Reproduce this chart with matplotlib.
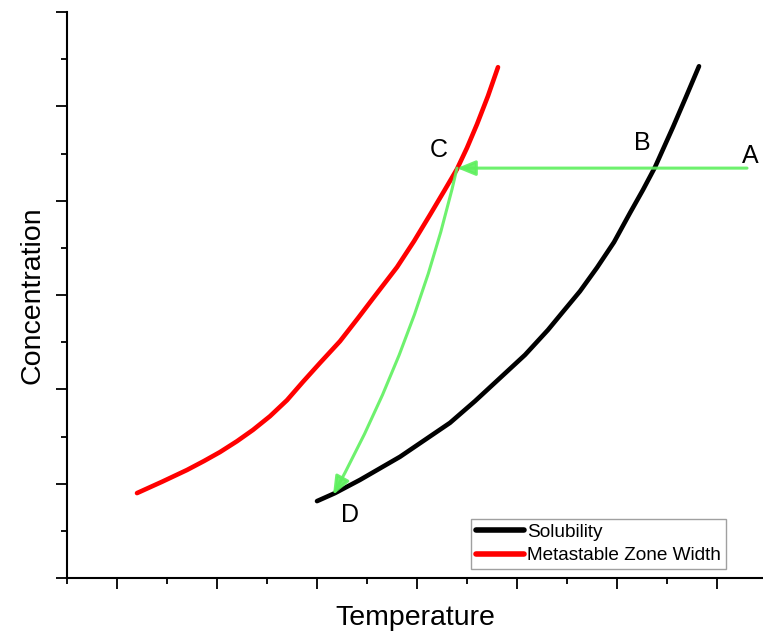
import matplotlib
matplotlib.use("Agg")
import matplotlib.pyplot as plt
from matplotlib.ticker import MultipleLocator, NullFormatter

plt.rcParams['font.family'] = ['Liberation Sans', 'DejaVu Sans']

# Data (arbitrary units)
sol_x = [4.0, 4.36, 4.86, 5.66, 6.16, 6.66, 7.16, 7.66, 8.16, 8.62, 8.90, 9.26,
         9.60, 9.94, 10.26, 10.52, 10.76, 11.12, 11.38, 11.64]
sol_y = [1.63, 1.80, 2.08, 2.57, 2.93, 3.29, 3.75, 4.24, 4.73, 5.26, 5.62, 6.08,
         6.58, 7.12, 7.74, 8.23, 8.71, 9.56, 10.20, 10.85]

msz_x = [0.40, 0.90, 1.40, 1.74, 2.06, 2.40, 2.72, 3.06, 3.40, 3.72, 4.06, 4.46,
         4.82, 5.10, 5.60, 5.94, 6.26, 6.54, 6.80, 7.00, 7.20, 7.42, 7.62]
msz_y = [1.80, 2.04, 2.29, 2.48, 2.67, 2.90, 3.14, 3.43, 3.77, 4.16, 4.56, 5.02,
         5.51, 5.90, 6.59, 7.14, 7.70, 8.20, 8.67, 9.12, 9.62, 10.22, 10.83]

point_names = ["A", "B", "C", "D"]
point_x = [12.60, 10.70, 6.80, 4.32]
point_y = [8.69, 8.69, 8.69, 1.76]
label_x = [12.66, 10.50, 6.44, 4.66]
label_y = [8.94, 9.22, 9.07, 1.34]

fig = plt.figure(figsize=(7.63, 6.35), dpi=100)
ax = fig.add_axes([67/763, 57/635, 1 - 67/763, (578-12)/635])

ax.plot(sol_x, sol_y, color='black', lw=3.3, solid_capstyle='round',
        solid_joinstyle='round', label='Solubility')
ax.plot(msz_x, msz_y, color='#ff0000', lw=3.3, solid_capstyle='round',
        solid_joinstyle='round', label='Metastable Zone Width')

green = '#5ef05e'
# A -> C
ax.annotate('', xy=(point_x[2], point_y[2]), xytext=(point_x[0], point_y[0]),
            arrowprops=dict(arrowstyle='-|>,head_length=1.1,head_width=0.45', color=green,
                            lw=2.2, shrinkA=0, shrinkB=0, alpha=0.9))
# C -> D
ax.annotate('', xy=(point_x[3], point_y[3]), xytext=(point_x[2], point_y[2]),
            arrowprops=dict(arrowstyle='-|>,head_length=1.1,head_width=0.45', color=green,
                            lw=2.2, shrinkA=0, shrinkB=0, alpha=0.9,
                            connectionstyle='arc3,rad=-0.07'))

for n, lx, ly in zip(point_names, label_x, label_y):
    ax.text(lx, ly, n, fontsize=18, ha='center', va='center', color='black')

ax.set_xlim(-1, 12.92)
ax.set_ylim(0, 12)

for s in ['top', 'right']:
    ax.spines[s].set_visible(False)
for s in ['left', 'bottom']:
    ax.spines[s].set_linewidth(1.5)

ax.xaxis.set_major_locator(MultipleLocator(2))
ax.xaxis.set_minor_locator(MultipleLocator(1))
ax.yaxis.set_major_locator(MultipleLocator(2))
ax.yaxis.set_minor_locator(MultipleLocator(1))
ax.xaxis.set_major_formatter(NullFormatter())
ax.yaxis.set_major_formatter(NullFormatter())
ax.tick_params(which='major', direction='out', length=8, width=1.3)
ax.tick_params(which='minor', direction='out', length=4, width=1.3)

ax.set_xlabel('Temperature', fontsize=20.5, labelpad=8)
ax.set_ylabel('Concentration', fontsize=20.5, labelpad=4)

leg = ax.legend(loc='lower right', bbox_to_anchor=(0.947, 0.016), borderaxespad=0,
                fontsize=13.7, handlelength=2.5, handletextpad=0.2, borderpad=0.25,
                labelspacing=0.3, fancybox=False, frameon=True)
leg.get_frame().set_edgecolor('#888888')
leg.get_frame().set_linewidth(1.0)
for line in leg.get_lines():
    line.set_linewidth(4)

fig.savefig('out.png', dpi=100)
